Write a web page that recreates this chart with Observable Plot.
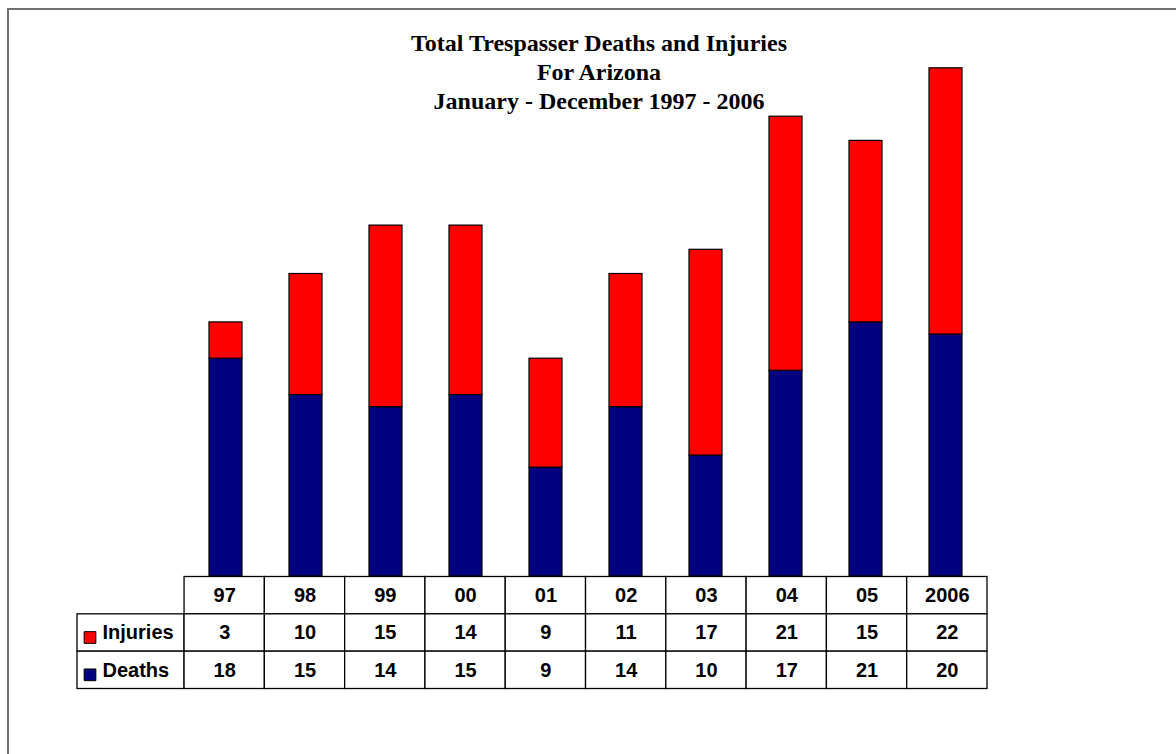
<!DOCTYPE html>
<html>
<head>
<meta charset="utf-8">
<script src="https://cdn.jsdelivr.net/npm/d3@7"></script>
<script src="https://cdn.jsdelivr.net/npm/@observablehq/plot@0.6"></script>
<style>
  html, body { margin: 0; padding: 0; background: #fff; }
  #wrap { position: relative; width: 1176px; height: 754px; overflow: hidden; background: #fff; }
  #frame { position: absolute; left: 7px; top: 8px; width: 1300px; height: 900px;
           border-top: 2px solid #707070; border-left: 2px solid #707070; z-index: 3; }
  #title { position: absolute; left: 0; top: 29px; width: 1198px; text-align: center;
           font: bold 24px "Liberation Serif", "Times New Roman", serif; line-height: 29px;
           color: #000; z-index: 2; }
  #bars, #table { position: absolute; left: 0; z-index: 1; }
  #bars { top: 0; }
  #table { top: 576px; }
</style>
</head>
<body>
<div id="wrap">
  <div id="frame"></div>
  <div id="bars"></div>
  <div id="table"></div>
  <div id="title">Total Trespasser Deaths and Injuries<br>For Arizona<br>January - December 1997 - 2006</div>
</div>
<script>
// ---- data ----
const years = ["97", "98", "99", "00", "01", "02", "03", "04", "05", "2006"];
const injuries = [3, 10, 15, 14, 9, 11, 17, 21, 15, 22];
const deaths = [18, 15, 14, 15, 9, 14, 10, 17, 21, 20];
const seriesNames = ["Deaths", "Injuries"];
const seriesColors = ["#000080", "#FF0000"];
const tableRowLabels = ["Injuries", "Deaths"];

// ---- derived tables ----
const stacked = years.flatMap((y, i) => [
  { year: y, series: "Deaths", value: deaths[i] },
  { year: y, series: "Injuries", value: injuries[i] }
]);

const font = "'Liberation Sans', Arial, sans-serif";

const bars = Plot.plot({
  width: 1176,
  height: 576,
  marginTop: 31.5,
  marginBottom: 0,
  marginLeft: 184,
  marginRight: 189,
  style: { background: "transparent", overflow: "visible" },
  x: { domain: years, paddingInner: 0.59, paddingOuter: 0.295, axis: null },
  y: { domain: [0, 45], axis: null },
  color: { domain: seriesNames, range: seriesColors },
  marks: [
    Plot.barY(stacked, {
      x: "year", y: "value", fill: "series",
      stroke: "#000", strokeWidth: 1.2
    })
  ]
});
document.getElementById("bars").appendChild(bars);

// table cells
const rowValues = { Injuries: injuries, Deaths: deaths };
const cells = [];
years.forEach((y, i) => cells.push({ c0: i, c1: i + 1, r: 0, text: y }));
tableRowLabels.forEach((lab, k) => {
  cells.push({ c0: -4 / 3, c1: 0, r: k + 1, text: null });
  years.forEach((y, i) => cells.push({ c0: i, c1: i + 1, r: k + 1, text: String(rowValues[lab][i]) }));
});
const labels = tableRowLabels.map((lab, k) => ({ label: lab, r: k + 1 }));

const table = Plot.plot({
  width: 1176,
  height: 178,
  margin: 0,
  style: { background: "transparent", overflow: "visible", fontFamily: font },
  x: { domain: [-4 / 3, years.length], range: [77, 987], axis: null },
  y: { domain: [0, 3], range: [0.5, 112.5], axis: null },
  color: { domain: seriesNames, range: seriesColors },
  marks: [
    Plot.rect(cells, {
      x1: "c0", x2: "c1", y1: "r", y2: d => d.r + 1,
      fill: "white", stroke: "#000", strokeWidth: 1.3
    }),
    Plot.text(cells.filter(d => d.text !== null), {
      x: d => (d.c0 + d.c1) / 2, y: d => d.r + 0.5, text: "text",
      fontSize: 20, fontWeight: "bold", fontFamily: font, fill: "#000"
    }),
    Plot.dot(labels, {
      x: () => -4 / 3, y: d => d.r + 0.5, dx: 12.5, dy: 4.5,
      symbol: "square", r: 6.6, fill: d => d.label === "Injuries" ? "Injuries" : "Deaths",
      stroke: "#000", strokeWidth: 1
    }),
    Plot.text(labels, {
      x: () => -4 / 3, y: d => d.r + 0.5, dx: 25, text: "label",
      textAnchor: "start", fontSize: 20, fontWeight: "bold", fontFamily: font, fill: "#000"
    })
  ]
});
document.getElementById("table").appendChild(table);
</script>
</body>
</html>
